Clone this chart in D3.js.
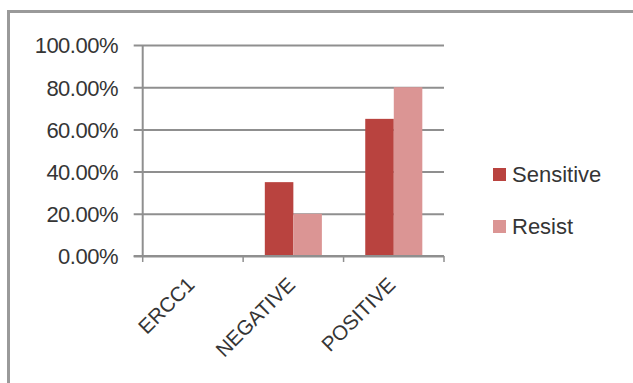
<!DOCTYPE html>
<html>
<head>
<meta charset="utf-8">
<script src="https://cdn.jsdelivr.net/npm/d3@7/dist/d3.min.js"></script>
<style>
  html, body { margin: 0; padding: 0; background: #fff; }
  svg { display: block; }
  text { font-family: "Liberation Sans", Arial, sans-serif; fill: #353535; }
</style>
</head>
<body>
<svg id="chart" width="633" height="383"></svg>
<script>
// Categories and series
const categories = ["ERCC1", "NEGATIVE", "POSITIVE"];
const seriesNames = ["Sensitive", "Resist"];
const sensitive = [0, 0.35, 0.65];
const resist = [0, 0.20, 0.80];
const yTicks = [0, 0.2, 0.4, 0.6, 0.8, 1.0];
const seriesColors = ["#b9433f", "#db9594"];

const svg = d3.select("#chart");
const W = 633, H = 383;

// outer frame (top and left edges)
svg.append("path")
  .attr("d", `M8.5,${H} V11.5 H${W}`)
  .attr("fill", "none")
  .attr("stroke", "#9a9a9a")
  .attr("stroke-width", 3);

const plot = { left: 142.7, right: 444, top: 45, bottom: 256 };

const y = d3.scaleLinear().domain([0, 1]).range([plot.bottom, plot.top]);
const x0 = d3.scaleBand().domain(categories).range([plot.left, plot.right]).paddingInner(0).paddingOuter(0);
const x1 = d3.scaleBand().domain(seriesNames).range([0, x0.bandwidth()]).paddingInner(0).paddingOuter(0.76);
const color = d3.scaleOrdinal().domain(seriesNames).range(seriesColors);

// gridlines with y tick labels
const yAxis = d3.axisLeft(y)
  .tickValues(yTicks)
  .tickSize(-(plot.right - plot.left))
  .tickPadding(16)
  .tickFormat(d3.format(".2%"));

const gy = svg.append("g")
  .attr("transform", `translate(${plot.left},0)`)
  .call(yAxis);
gy.select(".domain").remove();
gy.selectAll(".tick line")
  .attr("x1", -9)
  .attr("stroke", "#8f8f8f")
  .attr("stroke-width", 2);
gy.selectAll(".tick text")
  .attr("x", 118 - plot.left)
  .attr("dy", "0.36em")
  .style("font-size", "22px")
  .style("letter-spacing", "-0.5px");

// vertical value axis line
svg.append("line")
  .attr("x1", plot.left).attr("x2", plot.left)
  .attr("y1", plot.top).attr("y2", plot.bottom)
  .attr("stroke", "#8f8f8f").attr("stroke-width", 2);

// bars
const rows = categories.map((c, i) => ({ cat: c, values: [sensitive[i], resist[i]] }));
const groups = svg.append("g").selectAll("g")
  .data(rows)
  .join("g")
  .attr("transform", d => `translate(${x0(d.cat)},0)`);

groups.selectAll("rect")
  .data(d => seriesNames.map((s, k) => ({ s, v: d.values[k] })))
  .join("rect")
  .attr("x", d => x1(d.s))
  .attr("width", x1.bandwidth())
  .attr("y", d => y(d.v))
  .attr("height", d => y(0) - y(d.v))
  .attr("fill", d => color(d.s));

// category axis
const xAxis = d3.axisBottom(x0).tickSize(0).tickFormat("");
const gx = svg.append("g")
  .attr("transform", `translate(0,${plot.bottom})`)
  .call(xAxis);
gx.select(".domain")
  .attr("d", `M${plot.left - 9},0 H${plot.right}`)
  .attr("stroke", "#8f8f8f").attr("stroke-width", 2);

// tick marks at band boundaries
const boundaries = categories.map(c => x0(c)).concat([x0.range()[1]]);
gx.selectAll(".bound")
  .data(boundaries)
  .join("line")
  .attr("class", "bound")
  .attr("x1", d => d).attr("x2", d => d)
  .attr("y1", 0).attr("y2", 6)
  .attr("stroke", "#8f8f8f").attr("stroke-width", 1.5);

// rotated category labels
svg.append("g").selectAll("text")
  .data(categories)
  .join("text")
  .attr("text-anchor", "end")
  .attr("transform", d => `translate(${x0(d) + x0.bandwidth() / 2 + 3},${plot.bottom + 30}) rotate(-45)`)
  .style("font-size", "20.5px")
  .text(d => d);

// legend
const legend = svg.append("g").selectAll("g")
  .data(seriesNames)
  .join("g")
  .attr("transform", (d, i) => `translate(493,${168 + i * 52})`);
legend.append("rect")
  .attr("width", 13).attr("height", 13)
  .attr("fill", d => color(d));
legend.append("text")
  .attr("x", 19).attr("y", 14)
  .style("font-size", "22px")
  .text(d => d);
</script>
</body>
</html>
